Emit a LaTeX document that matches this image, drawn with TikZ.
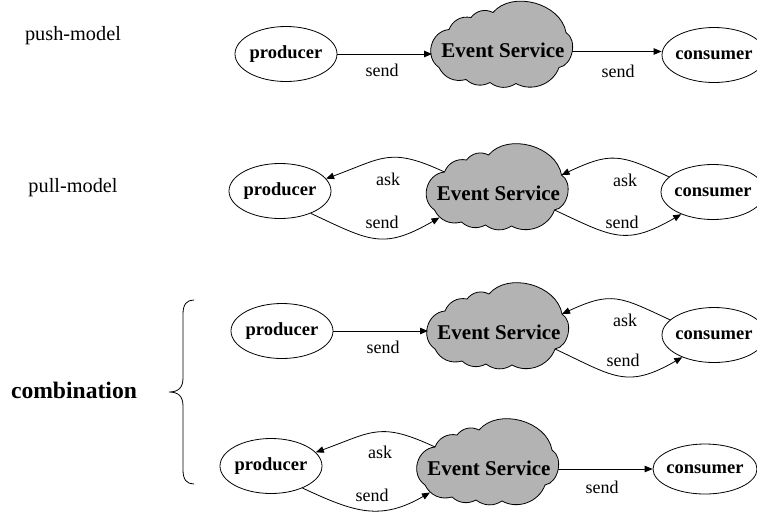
\documentclass[tikz,border=0pt]{standalone}
\usepackage{fontspec}
\setmainfont{Liberation Serif}
\usetikzlibrary{arrows.meta,shapes.geometric}

\definecolor{cloudgray}{RGB}{179,179,179}

\tikzset{
  role/.style={ellipse, draw, line width=0.8pt, inner sep=0pt,
    minimum width=102pt, minimum height=55pt,
    font=\fontsize{18.5}{20}\selectfont\bfseries},
  servicetext/.style={inner sep=0pt, font=\fontsize{21}{24}\selectfont\bfseries},
  cloudshape/.style={fill=cloudgray, draw=black, line width=0.8pt, line join=round},
  msg/.style={inner sep=0pt, font=\fontsize{18}{20}\selectfont},
  modelname/.style={inner sep=0pt, font=\fontsize{20.3}{24}\selectfont},
  conn/.style={line width=0.8pt, -{Triangle[length=8pt,width=6.5pt]}},
  bracestyle/.style={line width=0.8pt},
}

% Event Service cloud: #1 name, #2/#3 centre of the outline.
% The outline is a ring of lobes joined at notches; besides the text node
% it leaves ports (#1-w, #1-e, #1-nw, ...) on its rim.
\newcommand\eventcloud[3]{%
  \begin{scope}[shift={(#2,#3)}]
    \path[cloudshape]
      (-53,-16) to[bend left=40] (-31,-28)
                to[bend left=40] (-9,-33)
                to[bend left=65] (64,-13)
                to[bend left=70] (57,22)
                to[bend left=50] (14,38)
                to[bend left=35] (-12,37)
                to[bend left=35] (-36,34)
                to[bend left=40] (-63,22)
                to[bend left=70, looseness=1.2] (-53,-16) -- cycle;
    \coordinate (#1-w)  at (-70,1);
    \coordinate (#1-e)  at (70,6);
    \coordinate (#1-nw) at (-53,-16);
    \coordinate (#1-sw) at (-58,29.5);
    \coordinate (#1-ne) at (64,-13);
    \coordinate (#1-se) at (57,22);
    \node[servicetext] (#1) at (1,5) {Event Service};
  \end{scope}%
}

\begin{document}
\begin{tikzpicture}[x=1pt, y=-1pt]
  \path[use as bounding box] (0,0) rectangle (757,512);

  % model names
  \node[modelname] (pushname) at (73,36) {push-model};
  \node[modelname] (pullname) at (73,188) {pull-model};
  \node[modelname, font=\fontsize{23.6}{26}\selectfont\bfseries] (combname) at (74,390) {combination};

  % brace grouping the two combined variants
  \draw[bracestyle] (194,300) .. controls (187,300) and (183,304) .. (183,314)
    -- (183,378) .. controls (183,388) and (178,392) .. (169,392)
    .. controls (178,392) and (183,396) .. (183,406)
    -- (183,470) .. controls (183,480) and (187,484) .. (194,484);

  % push model
  \eventcloud{es1}{502}{45.5}
  \node[role] (p1) at (286,54) {\makebox[0pt]{producer}};
  \node[role, minimum width=104pt] (c1) at (714,55) {\makebox[0pt]{consumer}};
  \draw[conn] (p1.east) -- (p1.east -| es1-w);
  \draw[conn] (es1-e) -- (es1-e -| c1.west);
  \node[msg] (s1a) at (382,70) {send};
  \node[msg] (s1b) at (618,71) {send};

  % pull model
  \eventcloud{es2}{497.5}{188}
  \node[role] (p2) at (280,191) {\makebox[0pt]{producer}};
  \node[role, minimum width=104pt] (c2) at (713,192) {\makebox[0pt]{consumer}};
  \draw[conn] (es2-nw) to[out=155, in=20, looseness=1.3] (p2.15);
  \draw[conn] (p2.324) to[out=-25, in=210, looseness=1.3] (es2-sw);
  \draw[conn] (c2.161) to[out=155, in=25, looseness=1.3] (es2-ne);
  \draw[conn] (es2-se) to[out=-25, in=210, looseness=1.3] (c2.215);
  \node[msg] (a2a) at (388,179) {ask};
  \node[msg] (s2a) at (382,222) {send};
  \node[msg] (a2b) at (625,180) {ask};
  \node[msg] (s2b) at (622,222) {send};

  % combination: push from producer, pull by consumer
  \eventcloud{es3}{498}{327}
  \node[role] (p3) at (282,331) {\makebox[0pt]{producer}};
  \node[role, minimum width=104pt] (c3) at (714,335) {\makebox[0pt]{consumer}};
  \draw[conn] (p3.east) -- (p3.east -| es3-w);
  \draw[conn] (c3.161) to[out=155, in=25, looseness=1.3] (es3-ne);
  \draw[conn] (es3-se) to[out=-25, in=210, looseness=1.3] (c3.215);
  \node[msg] (s3a) at (383,347) {send};
  \node[msg] (a3b) at (625,320) {ask};
  \node[msg] (s3b) at (623,360) {send};

  % combination: pull from producer, push to consumer
  \eventcloud{es4}{488}{463}
  \node[role] (p4) at (271,466) {\makebox[0pt]{producer}};
  \node[role, minimum width=104pt, minimum height=50pt] (c4) at (705,469) {\makebox[0pt]{consumer}};
  \draw[conn] (es4-nw) to[out=155, in=20, looseness=1.3] (p4.17);
  \draw[conn] (p4.325) to[out=-25, in=210, looseness=1.15] (es4-sw);
  \draw[conn] (c4.west -| es4-e) -- (c4.west);
  \node[msg] (a4a) at (380,452) {ask};
  \node[msg] (s4a) at (372,495) {send};
  \node[msg] (s4b) at (602,487) {send};
\end{tikzpicture}
\end{document}
